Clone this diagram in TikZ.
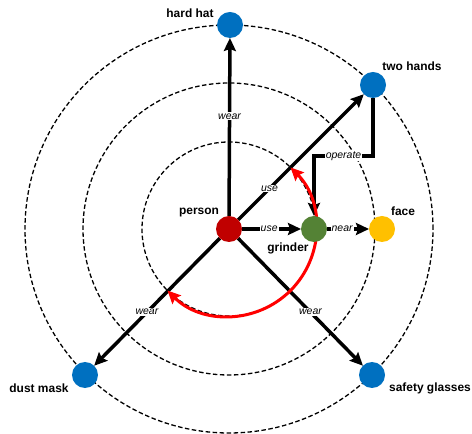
\documentclass[tikz,border=0pt]{standalone}
\usepackage{fontspec}
\setmainfont{Liberation Sans}
\usetikzlibrary{arrows.meta}
\pgfdeclarelayer{bg}
\pgfdeclarelayer{edgel}
\pgfdeclarelayer{redl}
\pgfdeclarelayer{front}
\pgfsetlayers{bg,edgel,redl,main,front}
\definecolor{cblue}{RGB}{0,112,192}
\definecolor{cred}{RGB}{192,0,0}
\definecolor{cgreen}{RGB}{84,130,53}
\definecolor{cyellow}{RGB}{255,192,0}
\definecolor{arcred}{RGB}{255,0,0}
\tikzset{
  dot/.style={circle, minimum size=26bp, inner sep=0pt, outer sep=0pt},
  ring/.style={dash pattern=on 4.5bp off 2.5bp, line width=1.3bp},
  edge/.style={line width=3.5bp, -{Stealth[length=13bp,width=12bp,inset=2bp]}},
  elbl/.style={fill=white, inner sep=1bp, font=\fontsize{10.5}{11}\selectfont\itshape},
  nlbl/.style={font=\fontsize{12}{13}\selectfont\bfseries, inner sep=0pt},
  redarc/.style={arcred, line width=3bp, {Stealth[length=13bp,width=12bp,inset=2bp]}-{Stealth[length=13bp,width=12bp,inset=2bp]}}
}
\begin{document}
\begin{tikzpicture}[x=1bp,y=1bp]
\useasboundingbox (-229,-205) rectangle (243,229);
\begin{pgfonlayer}{bg}
\draw[ring] (0,0) circle (87);
\draw[ring] (0,0) circle (146);
\draw[ring] (0,0) circle (204);
\end{pgfonlayer}
\begin{pgfonlayer}{front}
\node[dot, fill=cred] (person) at (0,0) {};
\node[dot, fill=cblue] (hardhat) at (1,204) {};
\node[dot, fill=cblue] (twohands) at (144,144) {};
\node[dot, fill=cblue] (dustmask) at (-144,-146) {};
\node[dot, fill=cblue] (glasses) at (143,-146) {};
\node[dot, fill=cgreen] (grinder) at (85,0) {};
\node[dot, fill=cyellow] (face) at (153,0) {};
\end{pgfonlayer}
\node[nlbl] (lhardhat) at (-39,216) {hard hat};
\node[nlbl] (ltwohands) at (183,163) {two hands};
\node[nlbl] (lperson) at (-30,16) {person};
\node[nlbl] (lgrinder) at (59,-19) {grinder};
\node[nlbl] (lface) at (174,18) {face};
\node[nlbl] (ldustmask) at (-190,-159) {dust mask};
\node[nlbl] (lglasses) at (201,-159) {safety glasses};
\begin{pgfonlayer}{edgel}
\draw[edge] (person) -- node[elbl, pos=0.56] {wear} (hardhat);
\draw[edge] (person) -- node[elbl, pos=0.25] {use} (twohands);
\draw[edge] (person) -- node[elbl, pos=0.46] {use} (grinder);
\draw[edge] (grinder) -- node[elbl, pos=0.36] {near} (face);
\draw[edge] (person) -- node[elbl, pos=0.58] {wear} (dustmask);
\draw[edge] (person) -- node[elbl, pos=0.58] {wear} (glasses);
\coordinate (opA) at (144,73);
\coordinate (opB) at (85,73);
\draw[edge] (twohands) -- (opA) -- node[elbl, pos=0.5] {operate} (opB) -- (grinder);
\end{pgfonlayer}
\begin{pgfonlayer}{redl}
\coordinate (arcstart) at (45:87);
\draw[redarc] (arcstart) arc[start angle=45, end angle=-135, radius=87];
\end{pgfonlayer}
\end{tikzpicture}
\end{document}
